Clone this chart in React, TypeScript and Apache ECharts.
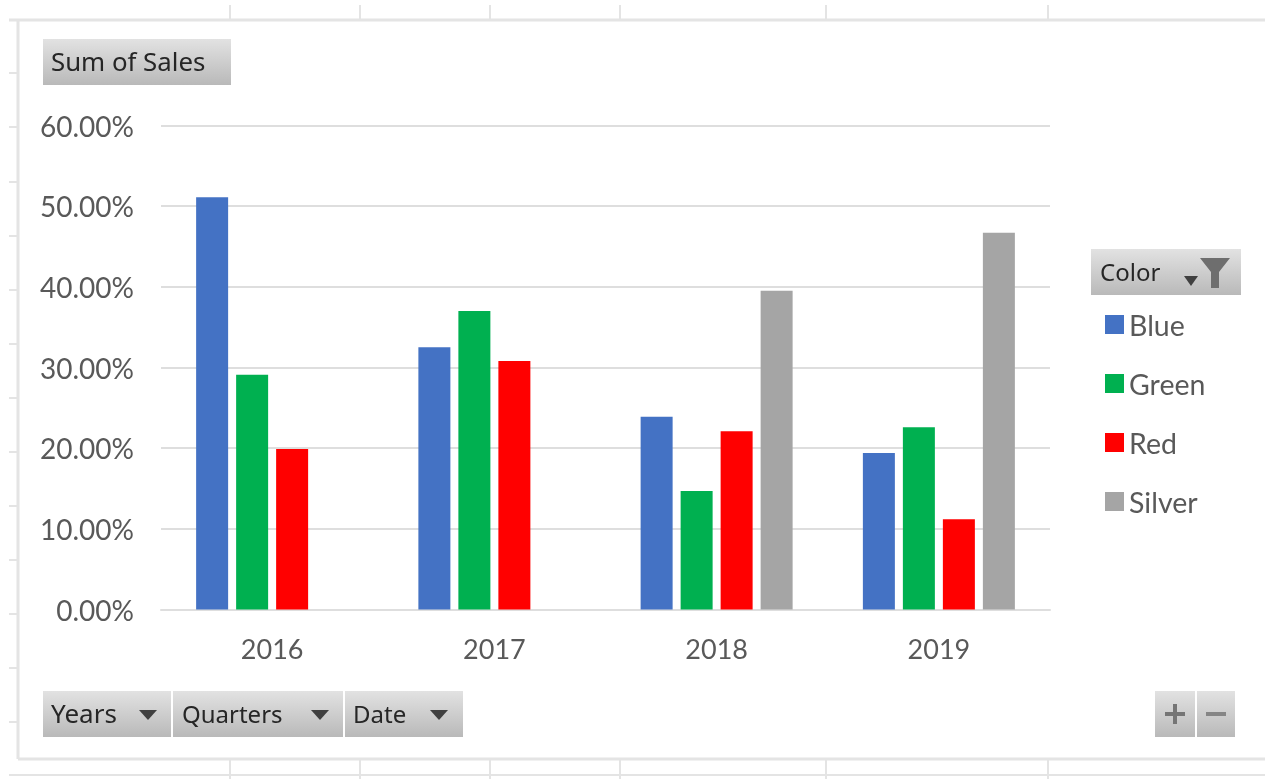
import React, { useEffect, useRef } from "react";
import * as echarts from "echarts";

const years = ["2016", "2017", "2018", "2019"];
const blue = [51.1, 32.5, 23.9, 19.4];
const green = [29.1, 37.0, 14.7, 22.6];
const red = [19.9, 30.8, 22.1, 11.2];
const silver = [null, null, 39.5, 46.7];
const FONT = "Lato, 'Open Sans', sans-serif";
const BTN = "'Noto Sans', sans-serif";

const grad = () => new echarts.graphic.LinearGradient(0, 0, 0, 1, [
  { offset: 0, color: "#e2e2e2" },
  { offset: 1, color: "#b9b9b9" },
]);
const button = (x: number, y: number, w: number, h: number) => ({
  type: "rect", shape: { x, y, width: w, height: h }, style: { fill: grad() }, silent: true,
});
const label = (text: string, x: number, y: number, size = 24) => ({
  type: "text", x, y, style: { text, fill: "#262626", font: `${size}px ${BTN}`, textVerticalAlign: "middle" }, silent: true,
});
const arrow = (cx: number, cy: number, w = 9) => ({
  type: "polygon", shape: { points: [[cx - w, cy - 5], [cx + w, cy - 5], [cx, cy + 5]] }, style: { fill: "#404040" }, silent: true,
});
const ln = (x1: number, y1: number, x2: number, y2: number, lineWidth = 2) => ({
  type: "line", shape: { x1, y1, x2, y2 }, style: { stroke: "#e4e4e4", lineWidth }, silent: true,
});

export default function App() {
  const ref = useRef<HTMLDivElement>(null);
  useEffect(() => {
    document.body.style.margin = "0";
    const chart = echarts.init(ref.current!, undefined, { renderer: "svg" });
    const sheetV = [230, 360, 490, 620, 826, 1048];
    const sheetH = [73, 127, 182, 236, 290, 344, 398, 452, 506, 560, 614, 668, 722];
    const mk = (name: string, data: (number | null)[], color: string) => ({
      name, type: "bar", data, barWidth: 32, barGap: "25%", itemStyle: { color },
    });
    chart.setOption({
      animation: false,
      backgroundColor: "#ffffff",
      grid: { left: 161, right: 215, top: 125.5, bottom: 169.5, containLabel: false },
      xAxis: {
        type: "category", data: years,
        axisTick: { show: false },
        axisLine: { lineStyle: { color: "#dedede", width: 2 } },
        axisLabel: { color: "#595959", fontFamily: FONT, fontSize: 27, margin: 25 },
      },
      yAxis: {
        type: "value", min: 0, max: 60, interval: 10,
        axisLine: { show: false }, axisTick: { show: false },
        splitLine: { lineStyle: { color: "#dedede", width: 2 } },
        axisLabel: { color: "#595959", fontFamily: FONT, fontSize: 28, margin: 27, formatter: (v: number) => v.toFixed(2) + "%" },
      },
      legend: {
        orient: "vertical", left: 1100, top: 305, itemWidth: 19, itemHeight: 19, itemGap: 30, icon: "rect",
        textStyle: { color: "#595959", fontFamily: FONT, fontSize: 28.5, padding: [0, 0, 0, 0] },
        data: ["Blue", "Green", "Red", "Silver"],
      },
      series: [mk("Blue", blue, "#4472c4"), mk("Green", green, "#00b050"), mk("Red", red, "#ff0000"), mk("Silver", silver, "#a5a5a5")],
      graphic: [
        ...sheetV.map((x) => ln(x, 5, x, 20)),
        ...sheetV.map((x) => ln(x, 759, x, 779)),
        ...sheetH.map((y) => ln(9, y, 18, y)),
        ln(9, 20, 1265, 20, 3), ln(18, 20, 18, 759, 3), ln(18, 759, 1265, 759, 3), ln(9, 775, 1265, 775),
        button(43, 39, 188, 46), label("Sum of Sales", 51, 61, 25.8),
        button(1091, 249, 150, 46), label("Color", 1100, 271),
        arrow(1191, 281, 7),
        { type: "polygon", shape: { points: [[1200, 258], [1230, 258], [1219, 272], [1219, 288], [1211, 288], [1211, 272]] }, style: { fill: "#6e6e6e" }, silent: true },
        button(43, 691, 128, 46), label("Years", 51, 713, 26), arrow(148, 715),
        button(173, 691, 170, 46), label("Quarters", 182, 713), arrow(320, 715),
        button(345, 691, 118, 46), label("Date", 353, 713), arrow(439, 715),
        button(1155, 691, 40, 46), button(1197, 691, 38, 46),
        { type: "rect", shape: { x: 1165, y: 712, width: 20, height: 4 }, style: { fill: "#757575" }, silent: true },
        { type: "rect", shape: { x: 1173, y: 704, width: 4, height: 20 }, style: { fill: "#757575" }, silent: true },
        { type: "rect", shape: { x: 1206, y: 712, width: 20, height: 4 }, style: { fill: "#858585" }, silent: true },
      ],
    });
    return () => chart.dispose();
  }, []);
  return <div ref={ref} style={{ width: 1265, height: 779, filter: "blur(0.5px)" }} />;
}
